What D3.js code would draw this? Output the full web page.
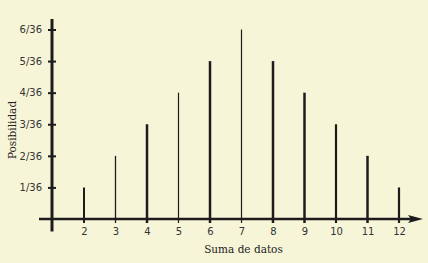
<!DOCTYPE html>
<html>
<head>
<meta charset="utf-8">
<script src="https://cdn.jsdelivr.net/npm/d3@7"></script>
<style>
  html, body { margin: 0; padding: 0; background: #f7f5d8; }
  svg { display: block; }
</style>
</head>
<body>
<svg id="chart"></svg>
<script>
// data
var sums = [2, 3, 4, 5, 6, 7, 8, 9, 10, 11, 12];
var counts = [1, 2, 3, 4, 5, 6, 5, 4, 3, 2, 1];   // out of 36
var barWidths = [2, 1.3, 2.5, 1.2, 2.5, 1.2, 2.5, 2.5, 2.2, 2.5, 2.2];
var yTicks = [1, 2, 3, 4, 5, 6];
var yTickLabels = ["1/36", "2/36", "3/36", "4/36", "5/36", "6/36"];

var W = 428, H = 263;
var ink = "#1c1c1c";

var svg = d3.select("#chart").attr("width", W).attr("height", H);
svg.append("rect").attr("width", W).attr("height", H).attr("fill", "#f7f5d8");

// scales
var xScale = d3.scaleLinear().domain([1, 12]).range([52.5, 399]);
var yScale = d3.scaleLinear().domain([0, 6]).range([219, 29.5]);

// bars (lines)
svg.selectAll(".bar")
    .data(sums)
    .enter()
    .append("line")
    .attr("class", "bar")
    .attr("x1", function (d) { return xScale(d); })
    .attr("x2", function (d) { return xScale(d); })
    .attr("y1", function (d, i) { return yScale(counts[i]); })
    .attr("y2", yScale(0) + 4)
    .attr("stroke", ink)
    .attr("stroke-width", function (d, i) { return barWidths[i]; });

// x axis line with arrow
var x0 = yScale(0);
svg.append("line")
    .attr("x1", 39).attr("x2", 412)
    .attr("y1", x0).attr("y2", x0)
    .attr("stroke", ink).attr("stroke-width", 2.5);
svg.append("path")
    .attr("d", "M408," + (x0 - 4) + " L423," + x0 + " L408," + (x0 + 4) + " L411," + x0 + " Z")
    .attr("fill", ink);

// y axis line
svg.append("line")
    .attr("x1", 52).attr("x2", 52)
    .attr("y1", 19).attr("y2", 231.5)
    .attr("stroke", ink).attr("stroke-width", 3);

// y ticks
var yAxis = d3.axisLeft(yScale)
    .tickValues(yTicks)
    .tickFormat(function (d, i) { return yTickLabels[i]; })
    .tickSize(0)
    .tickPadding(10);
var gy = svg.append("g").attr("transform", "translate(52,0)").call(yAxis);
gy.select(".domain").remove();
gy.selectAll(".tick line")
    .attr("x1", -4).attr("x2", 4)
    .attr("stroke", ink).attr("stroke-width", 2);
gy.selectAll(".tick text")
    .attr("x", -10)
    .attr("fill", "#333")
    .style("font-family", "DejaVu Sans")
    .style("font-size", "10px");

// x tick labels
var xAxis = d3.axisBottom(xScale).tickValues(sums).tickFormat(d3.format("d")).tickSize(0).tickPadding(0);
var gx = svg.append("g").attr("transform", "translate(0," + x0 + ")").call(xAxis);
gx.select(".domain").remove();
gx.selectAll(".tick text")
    .attr("y", 9)
    .attr("fill", "#333")
    .style("font-family", "DejaVu Sans")
    .style("font-size", "10px");

// axis titles
svg.append("text")
    .attr("x", 243.5).attr("y", 253)
    .attr("text-anchor", "middle")
    .attr("fill", "#222")
    .style("font-family", "DejaVu Serif")
    .style("font-size", "10.5px")
    .text("Suma de datos");

svg.append("text")
    .attr("transform", "translate(16,130) rotate(-90)")
    .attr("text-anchor", "middle")
    .attr("fill", "#222")
    .style("font-family", "DejaVu Serif")
    .style("font-size", "10.5px")
    .text("Posibilidad");
</script>
</body>
</html>
